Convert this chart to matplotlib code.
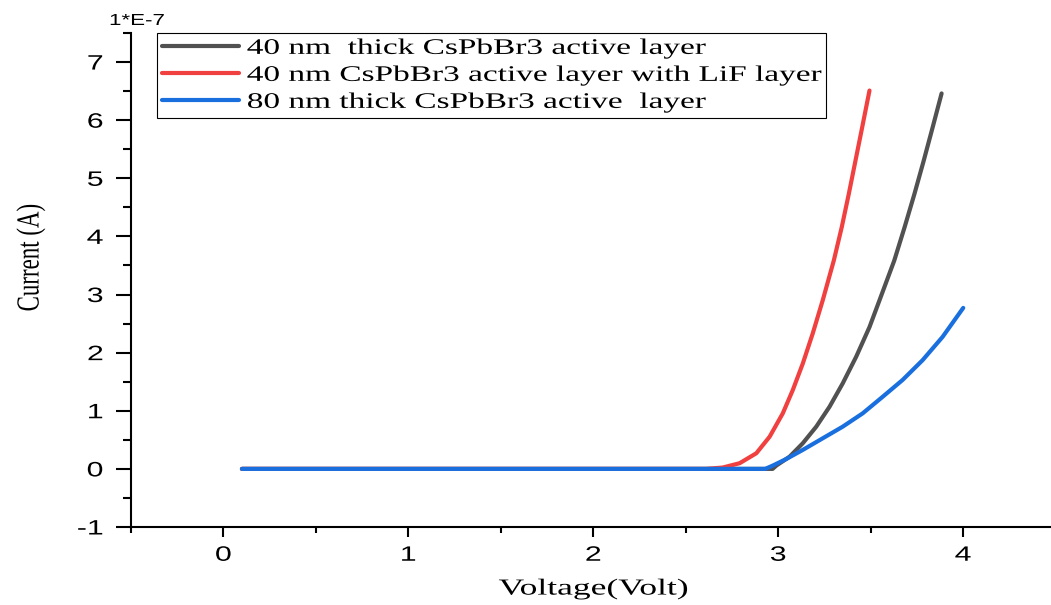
import numpy as np
import matplotlib
matplotlib.use('Agg')
import matplotlib.pyplot as plt
from matplotlib import patheffects
from matplotlib.transforms import Affine2D
from matplotlib.ticker import MultipleLocator

# data (voltage in V, current in units of 1e-7 A)
v_40nm = [0.1, 2.97, 2.99, 3.062, 3.133, 3.206, 3.278, 3.349, 3.422, 3.494, 3.548,
          3.628, 3.684, 3.737, 3.787, 3.835, 3.884]
i_40nm = [0.0, 0.0, 0.057, 0.21, 0.44, 0.726, 1.07, 1.47, 1.93, 2.44, 2.90,
          3.585, 4.16, 4.73, 5.30, 5.87, 6.46]

v_lif = [0.1, 2.61, 2.70, 2.792, 2.882, 2.954, 3.025, 3.079, 3.133, 3.187, 3.241,
         3.301, 3.344, 3.382, 3.418, 3.454, 3.494]
i_lif = [0.0, 0.0, 0.023, 0.098, 0.269, 0.554, 0.955, 1.355, 1.81, 2.33, 2.90,
         3.585, 4.16, 4.73, 5.30, 5.87, 6.51]

v_80nm = [0.1, 2.93, 2.971, 3.044, 3.133, 3.241, 3.349, 3.457, 3.565, 3.673, 3.781, 3.889, 4.001]
i_80nm = [0.0, 0.0, 0.057, 0.17, 0.326, 0.526, 0.726, 0.955, 1.24, 1.53, 1.87, 2.27, 2.77]

labels = ['40 nm  thick CsPbBr3 active layer',
          '40 nm CsPbBr3 active layer with LiF layer',
          '80 nm thick CsPbBr3 active  layer']
colors = ['#515151', '#F14040', '#1A6FDF']


class Stretch(patheffects.AbstractPathEffect):
    # the reference image is stretched sideways, so stretch the glyphs too
    def __init__(self, sx=1.0, sy=1.0, anchor=0.5):
        super().__init__()
        self.sx, self.sy, self.anchor = sx, sy, anchor

    def draw_path(self, renderer, gc, tpath, affine, rgbFace=None):
        ext = tpath.get_extents()
        x0 = 0 if self.anchor == 0 else ext.x0 + self.anchor * ext.width
        y0 = (ext.y0 + ext.y1) / 2
        st = Affine2D().translate(-x0, -y0).scale(self.sx, self.sy).translate(x0, y0)
        renderer.draw_path(gc, tpath, st + affine, rgbFace)


plt.rcParams['font.family'] = 'Liberation Sans'
plt.rcParams['axes.unicode_minus'] = False

fig = plt.figure(figsize=(10.51, 6.05), dpi=100)
ax = fig.add_axes([131 / 1051, 78 / 605, 924.5 / 1051, 494 / 605])

for v, i, c, lab in zip([v_40nm, v_lif, v_80nm], [i_40nm, i_lif, i_80nm], colors, labels):
    ax.plot(v, i, color=c, lw=3, label=lab, solid_capstyle='round', solid_joinstyle='round')

ax.set_xlim(-0.5, 4.5)
ax.set_ylim(-1, 7.5)
ax.xaxis.set_major_locator(MultipleLocator(1))
ax.xaxis.set_minor_locator(MultipleLocator(0.5))
ax.yaxis.set_major_locator(MultipleLocator(1))
ax.yaxis.set_minor_locator(MultipleLocator(0.5))

for s in ['top', 'right']:
    ax.spines[s].set_visible(False)
for s in ['left', 'bottom']:
    ax.spines[s].set_linewidth(1.5)

ax.tick_params(axis='both', which='both', direction='out', width=1.5, labelsize=15)
ax.tick_params(axis='x', which='major', length=7.5, pad=6)
ax.tick_params(axis='x', which='minor', length=4.3)
ax.tick_params(axis='y', which='major', length=11, pad=9)
ax.tick_params(axis='y', which='minor', length=5.8)

for lbl in ax.get_xticklabels():
    lbl.set_path_effects([Stretch(sx=1.45, anchor=0.5)])
for lbl in ax.get_yticklabels():
    lbl.set_path_effects([Stretch(sx=1.45, anchor=1.0)])

ax.set_xlabel('Voltage(Volt)', family='Liberation Serif', fontsize=16.5,
              path_effects=[Stretch(sx=1.55, anchor=0.5)])
ax.xaxis.set_label_coords(0.5, -0.104)
ax.set_ylabel('Current (A)', family='Liberation Serif', fontsize=16.5,
              path_effects=[Stretch(sy=1.4, anchor=0.5)])
ax.yaxis.set_label_coords(-0.097, 0.545)

fig.text(109 / 1051, 1 - 25 / 605, '1*E-7', fontsize=11.5, ha='left', va='baseline',
         path_effects=[Stretch(sx=1.4, anchor=0)])

leg = ax.legend(loc='upper left', bbox_to_anchor=(0.0281, 0.828, 0.7237, 0.172),
                mode='expand', borderaxespad=0, fancybox=False, framealpha=1,
                edgecolor='black', prop={'family': 'Liberation Serif', 'size': 16},
                handlelength=3.45, handletextpad=0.35, labelspacing=0.29, borderpad=0.24)
leg.get_frame().set_linewidth(0.8)
for t in leg.get_texts():
    t.set_path_effects([Stretch(sx=1.5, anchor=0)])

fig.savefig('out.png', dpi=100)
